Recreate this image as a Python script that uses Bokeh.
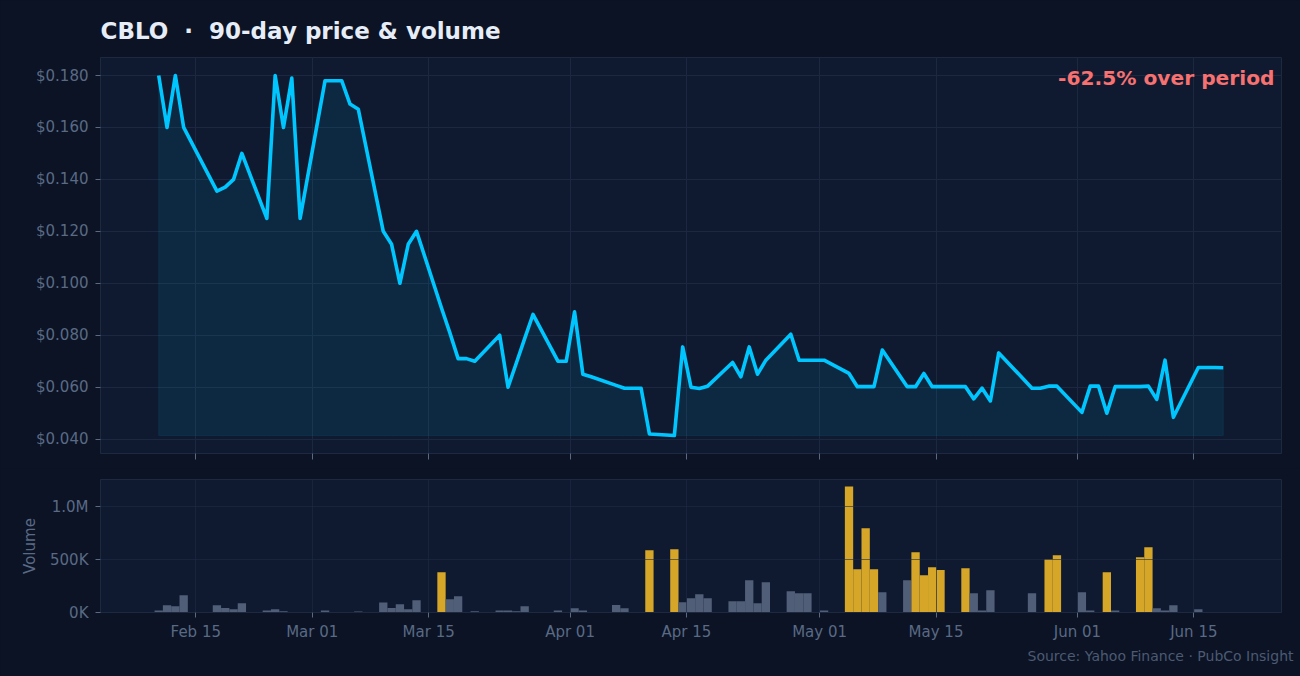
import numpy as np
import pandas as pd
from bokeh.plotting import figure
from bokeh.models import (ColumnDataSource, Range1d, DaysTicker, DatetimeTickFormatter,
                          NumeralTickFormatter, FixedTicker, Label, Title, CustomJSTickFormatter)
from bokeh.layouts import column
from bokeh.embed import file_html
from bokeh.resources import INLINE

# ---------------- data ----------------
dates = [
    "2025-02-11", "2025-02-12", "2025-02-13", "2025-02-14", "2025-02-18", "2025-02-19",
    "2025-02-20", "2025-02-21", "2025-02-24", "2025-02-25", "2025-02-26", "2025-02-27",
    "2025-02-28", "2025-03-03", "2025-03-04", "2025-03-05", "2025-03-06", "2025-03-07",
    "2025-03-10", "2025-03-11", "2025-03-12", "2025-03-13", "2025-03-14", "2025-03-17",
    "2025-03-18", "2025-03-19", "2025-03-20", "2025-03-21", "2025-03-24", "2025-03-25",
    "2025-03-26", "2025-03-27", "2025-03-28", "2025-03-31", "2025-04-01", "2025-04-02",
    "2025-04-03", "2025-04-04", "2025-04-07", "2025-04-08", "2025-04-09", "2025-04-10",
    "2025-04-11", "2025-04-14", "2025-04-15", "2025-04-16", "2025-04-17", "2025-04-18",
    "2025-04-21", "2025-04-22", "2025-04-23", "2025-04-24", "2025-04-25", "2025-04-28",
    "2025-04-29", "2025-04-30", "2025-05-01", "2025-05-02", "2025-05-05", "2025-05-06",
    "2025-05-07", "2025-05-08", "2025-05-09", "2025-05-12", "2025-05-13", "2025-05-14",
    "2025-05-15", "2025-05-16", "2025-05-19", "2025-05-20", "2025-05-21", "2025-05-22",
    "2025-05-23", "2025-05-27", "2025-05-28", "2025-05-29", "2025-05-30", "2025-06-02",
    "2025-06-03", "2025-06-04", "2025-06-05", "2025-06-06", "2025-06-09", "2025-06-10",
    "2025-06-11", "2025-06-12", "2025-06-13", "2025-06-16", "2025-06-17", "2025-06-18",
    "2025-06-19",
]
prices = [
    0.180, 0.160, 0.180, 0.160, 0.1355, 0.137,
    0.140, 0.150, 0.125, 0.180, 0.160, 0.179,
    0.125, 0.178, 0.178, 0.178, 0.169, 0.167,
    0.120, 0.115, 0.100, 0.115, 0.120, 0.0905,
    0.081, 0.071, 0.071, 0.070, 0.080, 0.060,
    0.0693, 0.0787, 0.088, 0.070, 0.070, 0.089,
    0.065, 0.064, 0.0607, 0.0596, 0.0596, 0.0596,
    0.042, 0.0414, 0.0755, 0.060, 0.0595, 0.0604,
    0.0695, 0.064, 0.0755, 0.065, 0.0704, 0.0804,
    0.0704, 0.0704, 0.0704, 0.0704, 0.0653, 0.0602,
    0.0602, 0.0602, 0.0743, 0.0602, 0.0602, 0.0653,
    0.0602, 0.0602, 0.0602, 0.0555, 0.0596, 0.0547,
    0.0732, 0.0596, 0.0596, 0.0604, 0.0604, 0.0503,
    0.0604, 0.0604, 0.050, 0.0602, 0.0602, 0.0604,
    0.0553, 0.0704, 0.0484, 0.0676, 0.0676, 0.0676,
    0.0675,
]
volumes = [
    20000, 68000, 58000, 163000, 68000, 43000,
    30000, 88000, 20000, 30000, 12000, 0,
    0, 20000, 0, 0, 0, 10000,
    94000, 43000, 78000, 30000, 116000, 380000,
    125000, 154000, 0, 12000, 20000, 20000,
    12000, 60000, 0, 20000, 0, 40000,
    20000, 0, 70000, 40000, 0, 0,
    587000, 597000, 97000, 135000, 173000, 135000,
    107000, 107000, 305000, 87000, 286000, 201000,
    182000, 182000, 0, 20000, 1190000, 408000,
    795000, 408000, 191000, 305000, 568000, 352000,
    427000, 400000, 418000, 182000, 20000, 210000,
    0, 182000, 0, 503000, 540000, 191000,
    20000, 0, 380000, 20000, 521000, 616000,
    40000, 20000, 68000, 30000, 0, 0,
    0,
]
price_ticks = [0.04, 0.06, 0.08, 0.10, 0.12, 0.14, 0.16, 0.18]
volume_ticks = [0, 500000, 1000000]
title_text = "CBLO\u00a0\u00a0\u00b7\u00a0\u00a090-day price & volume"
source_text = "Source: Yahoo Finance \u00b7 PubCo Insight"
spike_threshold = 330000

# ---------------- style ----------------
BG = "#0b1325"
PLOT_BG = "#0f1a30"
BORDER = "#1d2940"
GRID = "#1c2840"
DIM = "#5a6a84"
TITLE_C = "#e6edf7"
CYAN = "#00c6ff"
GOLD = "#d6a628"
GREY = "#515e77"
RED = "#f87171"
FONT = "DejaVu Sans"

x = (pd.to_datetime(dates) - pd.Timedelta(hours=11)).to_pydatetime()
price = np.array(prices)
vol = np.array(volumes)
colors = [GOLD if v > spike_threshold else GREY for v in volumes]

week = pd.Timedelta(days=7).to_pytimedelta()
xr = Range1d(x[0] - week, x[-1] + week)
pad = 0.05 * (price.max() - price.min())
yr = Range1d(price.min() - pad, price.max() + pad)

# ---------------- price figure ----------------
p1 = figure(width=1300, height=468, x_range=xr, y_range=yr, x_axis_type="datetime",
            output_backend="svg", toolbar_location=None,
            min_border_left=100, min_border_right=19, min_border_top=57, min_border_bottom=15,
            background_fill_color=PLOT_BG, border_fill_color=BG, outline_line_color=BORDER,
            styles={"background-color": BG})
p1.title.text = title_text
p1.title.text_font = FONT
p1.title.text_font_size = "23px"
p1.title.text_font_style = "bold"
p1.title.text_color = TITLE_C
p1.title.offset = 0
p1.title.standoff = 28

base = price.min()
xs = list(x) + list(x[::-1])
ys = list(price) + [base] * len(price)
p1.patch(xs, ys, fill_color=CYAN, fill_alpha=0.09, line_color=CYAN, line_alpha=0.08, line_width=1)
p1.line(x, price, line_color=CYAN, line_width=3.6, line_join="round")

chg = (price[-1] / price[0] - 1) * 100
ann = Label(x=xr.end, y=yr.end, x_offset=-7, y_offset=-8, text=f"{chg:.1f}% over period",
            text_align="right", text_baseline="top", text_font=FONT, text_font_size="20.2px",
            text_font_style="bold", text_color=RED)
p1.add_layout(ann)

p1.xaxis.ticker = DaysTicker(days=[1, 15])
p1.xaxis.formatter = CustomJSTickFormatter(code="return '';")
p1.xaxis.major_label_text_font_size = "6px"
p1.xaxis.major_label_standoff = 0
p1.yaxis.ticker = FixedTicker(ticks=price_ticks)
p1.yaxis.formatter = NumeralTickFormatter(format="$0.000")

# ---------------- volume figure ----------------
src = ColumnDataSource(dict(x=x, v=vol, c=colors))
p2 = figure(width=1300, height=208, x_range=xr, y_range=Range1d(0, vol.max() * 1.055),
            x_axis_type="datetime", output_backend="svg", toolbar_location=None,
            min_border_left=100, min_border_right=19, min_border_top=11, min_border_bottom=64,
            background_fill_color=PLOT_BG, border_fill_color=BG, outline_line_color=BORDER,
            styles={"background-color": BG})
p2.vbar(x="x", top="v", width=86400000, fill_color="c", line_color=None, source=src)
p2.xaxis.ticker = DaysTicker(days=[1, 15])
p2.xaxis.formatter = DatetimeTickFormatter(days="%b %d", months="%b %d")
p2.yaxis.ticker = FixedTicker(ticks=volume_ticks)
p2.yaxis.formatter = CustomJSTickFormatter(
    code="if (tick == 0) return '0K'; if (tick >= 1e6) return (tick/1e6).toFixed(1) + 'M'; return (tick/1e3).toFixed(0) + 'K';")
p2.yaxis.axis_label = "Volume"
p2.yaxis.axis_label_text_font = FONT
p2.yaxis.axis_label_text_font_size = "15px"
p2.yaxis.axis_label_text_font_style = "normal"
p2.yaxis.axis_label_text_color = DIM
p2.yaxis.axis_label_standoff = 8
p2.xgrid.level = "overlay"
p2.ygrid.level = "overlay"

src_title = Title(text=source_text, align="right", text_font=FONT, text_font_size="14px",
                  text_font_style="normal", text_color="#4c5a72", offset=-12, standoff=4)
p2.add_layout(src_title, "below")

for p in (p1, p2):
    for ax in (p.xaxis[0], p.yaxis[0]):
        ax.axis_line_color = BORDER
        ax.major_tick_line_color = DIM
        ax.major_tick_out = 5
        ax.major_tick_in = 0
        ax.minor_tick_line_color = None
        ax.major_label_text_font = FONT
        ax.major_label_text_color = DIM
    p.yaxis.major_label_text_font_size = "15px"
    p.yaxis.major_label_standoff = 7
    p.xgrid.grid_line_color = GRID
    p.ygrid.grid_line_color = GRID
p1.xaxis.major_tick_out = 6
p2.xaxis.major_label_text_font_size = "15px"
p2.xaxis.major_label_standoff = 5
p2.xgrid.grid_line_color = "#1e2b45"
p2.ygrid.grid_line_color = "#1e2b45"
p2.xgrid.grid_line_alpha = 0.6
p2.ygrid.grid_line_alpha = 0.6

layout = column(p1, p2, spacing=0, styles={"background-color": BG})
open("out.html", "w").write(file_html(layout, INLINE))
